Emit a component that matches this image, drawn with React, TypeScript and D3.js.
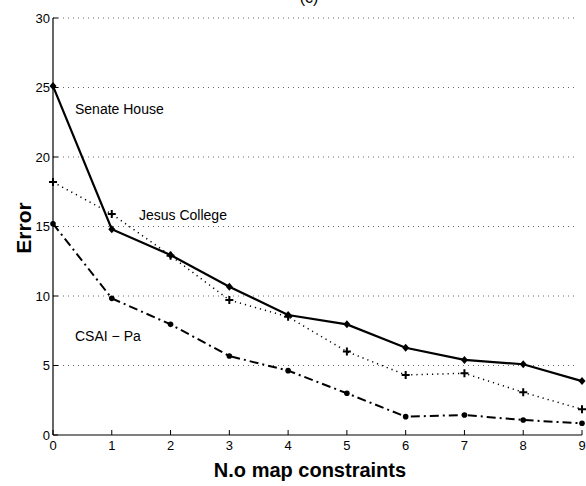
import React from "react";
import * as d3 from "d3";

const xValues = [0, 1, 2, 3, 4, 5, 6, 7, 8, 9];
const senateHouse = [25.1, 14.8, 12.95, 10.67, 8.63, 7.96, 6.28, 5.4, 5.09, 3.88];
const jesusCollege = [18.2, 15.9, 12.9, 9.71, 8.5, 6.0, 4.32, 4.44, 3.07, 1.85];
const csaiPa = [15.2, 9.83, 7.96, 5.68, 4.63, 3.0, 1.32, 1.44, 1.08, 0.84];
const yTicks = [0, 5, 10, 15, 20, 25, 30];

const W = 586;
const H = 486;
const left = 53;
const right = 582;
const top = 18;
const bottom = 435;

export default function App() {
  const x = d3.scaleLinear().domain([0, 9]).range([left, right]);
  const y = d3.scaleLinear().domain([0, 30]).range([bottom, top]);
  const line = d3
    .line<number>()
    .x((_, i) => x(xValues[i]))
    .y((d) => y(d));
  const font = "'Liberation Sans', Arial, Helvetica, sans-serif";

  return (
    <svg
      width={W}
      height={H}
      style={{ position: "absolute", left: 0, top: 0, background: "#fff" }}
      fontFamily={font}
    >
      <text x={309} y={3} fontSize={16} textAnchor="middle">(c)</text>
      {yTicks
        .filter((t) => t > 0)
        .map((t) => (
          <line
            key={t}
            x1={left}
            x2={578}
            y1={y(t)}
            y2={y(t)}
            stroke="#666"
            strokeWidth={1}
            strokeDasharray="1,4"
          />
        ))}
      <line x1={left} x2={left} y1={top} y2={bottom} stroke="#000" strokeWidth={1.2} />
      <line x1={left} x2={right} y1={bottom} y2={bottom} stroke="#000" strokeWidth={1.2} />
      {yTicks.map((t) => (
        <g key={t}>
          <line x1={left} x2={left + 5} y1={y(t)} y2={y(t)} stroke="#000" />
          <text x={left - 3} y={y(t) + 4.5} fontSize={13} textAnchor="end">
            {t}
          </text>
        </g>
      ))}
      {xValues.map((t) => (
        <g key={t}>
          <line x1={x(t)} x2={x(t)} y1={bottom} y2={bottom - 5} stroke="#000" />
          <text x={x(t)} y={bottom + 15} fontSize={13} textAnchor="middle">
            {t}
          </text>
        </g>
      ))}
      <path d={line(jesusCollege) || ""} fill="none" stroke="#000" strokeWidth={1.5} strokeDasharray="1.2,4" />
      <path d={line(csaiPa) || ""} fill="none" stroke="#000" strokeWidth={2} strokeDasharray="9,4,2,4" />
      <path d={line(senateHouse) || ""} fill="none" stroke="#000" strokeWidth={2.2} />
      {senateHouse.map((v, i) => (
        <path
          key={"s" + i}
          d={`M${x(xValues[i])},${y(v) - 4} L${x(xValues[i]) + 3.5},${y(v)} L${x(xValues[i])},${y(v) + 4} L${x(xValues[i]) - 3.5},${y(v)} Z`}
          fill="#000"
        />
      ))}
      {jesusCollege.map((v, i) => (
        <path
          key={"j" + i}
          d={`M${x(xValues[i]) - 4},${y(v)} H${x(xValues[i]) + 4} M${x(xValues[i])},${y(v) - 4} V${y(v) + 4}`}
          stroke="#000"
          strokeWidth={2}
        />
      ))}
      {csaiPa.map((v, i) => (
        <circle key={"c" + i} cx={x(xValues[i])} cy={y(v)} r={2.8} fill="#000" />
      ))}
      <text x={75} y={114} fontSize={14}>Senate House</text>
      <text x={139} y={220} fontSize={14}>Jesus College</text>
      <text x={75} y={341} fontSize={14}>CSAI − Pa</text>
      <text
        transform={`translate(31,228) rotate(-90)`}
        fontSize={21}
        fontWeight="bold"
        textAnchor="middle"
      >
        Error
      </text>
      <text x={310} y={477} fontSize={20} fontWeight="bold" textAnchor="middle">
        N.o map constraints
      </text>
    </svg>
  );
}
